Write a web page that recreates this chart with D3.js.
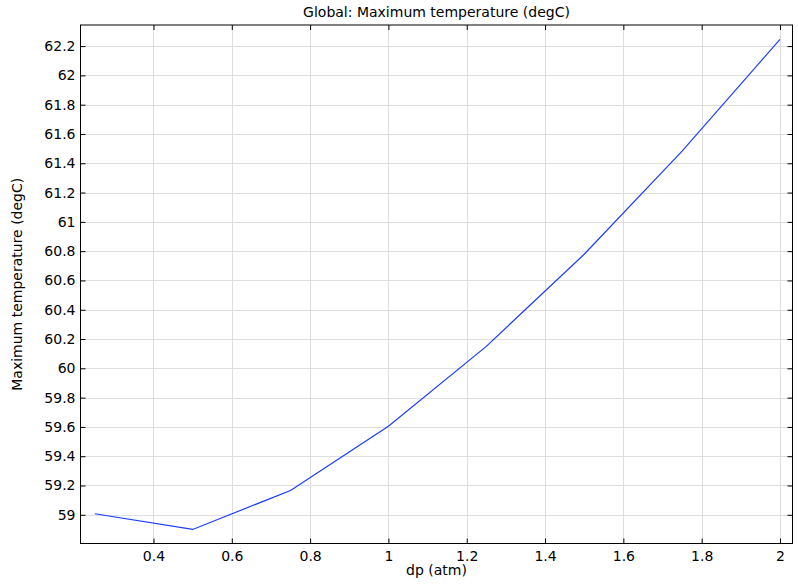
<html>
<head>
<script src="https://d3js.org/d3.v7.min.js"></script>
<style>
  body { margin:0; background:#fff; }
  text { font-family: "DejaVu Sans", sans-serif; fill:#000; }
</style>
</head>
<body>
<div id="chart"></div>
<script>
// data
var dp = [0.25, 0.5, 0.75, 1, 1.25, 1.5, 1.75, 2];
var tmax = [59.007, 58.90, 59.166, 59.604, 60.150, 60.779, 61.483, 62.246];
var xTicks = [0.4, 0.6, 0.8, 1, 1.2, 1.4, 1.6, 1.8, 2];
var yTicks = [59, 59.2, 59.4, 59.6, 59.8, 60, 60.2, 60.4, 60.6, 60.8, 61, 61.2, 61.4, 61.6, 61.8, 62, 62.2];

var W = 798, H = 588;
var pLeft = 80.5, pRight = 792.5, pTop = 25, pBottom = 543.5;

var svg = d3.select("#chart").append("svg")
            .attr("width", W).attr("height", H);

var x = d3.scaleLinear().domain([0.2136, 2.032]).range([pLeft, pRight]);
var y = d3.scaleLinear().domain([58.804, 62.344]).range([pBottom, pTop]);

// grid
svg.append("g").selectAll("line").data(xTicks).enter().append("line")
   .attr("x1", d => Math.round(x(d)) + 0.5).attr("x2", d => Math.round(x(d)) + 0.5)
   .attr("y1", pTop).attr("y2", pBottom)
   .attr("stroke", "#dedede").attr("stroke-width", 1);
svg.append("g").selectAll("line").data(yTicks).enter().append("line")
   .attr("y1", d => Math.round(y(d)) + 0.5).attr("y2", d => Math.round(y(d)) + 0.5)
   .attr("x1", pLeft).attr("x2", pRight)
   .attr("stroke", "#dedede").attr("stroke-width", 1);

// axes, ticks point inward
var fmt = d => d3.format("")(+d.toFixed(1));
var gx = svg.append("g").attr("transform", "translate(0," + pBottom + ")")
   .call(d3.axisBottom(x).tickValues(xTicks).tickSize(-5).tickPadding(8).tickFormat(fmt));
var gxt = svg.append("g").attr("transform", "translate(0," + pTop + ")")
   .call(d3.axisTop(x).tickValues(xTicks).tickSize(-5).tickFormat(""));
var gy = svg.append("g").attr("transform", "translate(" + pLeft + ",0)")
   .call(d3.axisLeft(y).tickValues(yTicks).tickSize(-5).tickPadding(5).tickFormat(fmt));
var gyr = svg.append("g").attr("transform", "translate(" + pRight + ",0)")
   .call(d3.axisRight(y).tickValues(yTicks).tickSize(-5).tickFormat(""));

[gx, gxt, gy, gyr].forEach(g => {
  g.selectAll(".domain").remove();
  g.selectAll("line").attr("stroke", "#000");
  g.selectAll("text").style("font-size", "14px").style("font-family", "DejaVu Sans").attr("fill", "#000");
});

// frame
svg.append("rect").attr("x", pLeft).attr("y", pTop)
   .attr("width", pRight - pLeft).attr("height", pBottom - pTop)
   .attr("fill", "none").attr("stroke", "#000").attr("stroke-width", 1);

// the line
var line = d3.line().x((d, i) => x(dp[i])).y(d => y(d));
svg.append("path").datum(tmax)
   .attr("d", line)
   .attr("fill", "none")
   .attr("stroke", "#1a3cff")
   .attr("stroke-width", 1.2);

// titles
svg.append("text").attr("x", (pLeft + pRight) / 2).attr("y", 17)
   .attr("text-anchor", "middle").style("font-size", "14px")
   .text("Global: Maximum temperature (degC)");
svg.append("text").attr("x", (pLeft + pRight) / 2).attr("y", 575)
   .attr("text-anchor", "middle").style("font-size", "14px")
   .text("dp (atm)");
svg.append("text")
   .attr("transform", "translate(22," + ((pTop + pBottom) / 2) + ") rotate(-90)")
   .attr("text-anchor", "middle").style("font-size", "14px")
   .text("Maximum temperature (degC)");
</script>
</body>
</html>
